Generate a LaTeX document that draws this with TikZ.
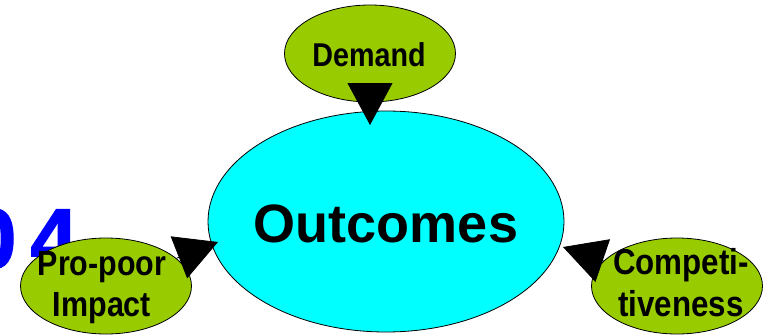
\documentclass[tikz,border=0pt]{standalone}
\usepackage{fontspec}
\setmainfont{Liberation Sans}
\newfontfamily\narrowsans[FakeStretch=0.87]{Liberation Sans}
\newfontfamily\yearsans[FakeBold=1.6]{Liberation Sans Bold}
\usetikzlibrary{shapes,arrows.meta}
\definecolor{outcomecyan}{RGB}{0,255,255}
\definecolor{driverlime}{RGB}{153,204,0}
\definecolor{yearblue}{RGB}{0,0,255}
\tikzset{
  driver/.style={ellipse,draw,line width=0.8pt,fill=driverlime,minimum width=171pt,minimum height=96pt,inner sep=0},
  drivertext/.style={align=center,inner sep=0,font=\narrowsans\bfseries\fontsize{35}{41}\selectfont},
  push/.style={line width=0.8pt,-{Triangle[length=42pt,width=45pt]}}
}
\begin{document}
\begin{tikzpicture}[x=1pt,y=-1pt]
\useasboundingbox (0,0) rectangle (764,335);
% year in the background
\node[anchor=base east,inner sep=0,text=yearblue,font=\yearsans\fontsize{85}{85}\selectfont] (year) at (78,268) {0\kern14pt4};
% centre
\node[ellipse,draw,line width=0.8pt,fill=outcomecyan,minimum width=356pt,minimum height=221pt,inner sep=0] (outcomes) at (386,221.5) {};
\node[inner sep=0,font=\bfseries\fontsize{54}{60}\selectfont] (outcomestext) at (386,224) {Outcomes};
% drivers
\node[driver,minimum height=97pt] (demand) at (370,53.5) {};
\node[drivertext,font=\narrowsans\bfseries\fontsize{33}{40}\selectfont] (demandtext) at (369,55) {Demand};
\node[driver] (propoor) at (106,286) {};
\node[drivertext] (propoortext) at (102,288) {Pro-poor\\Impact};
\node[driver] (compet) at (677,286) {};
\node[drivertext,font=\narrowsans\bfseries\fontsize{36}{42}\selectfont] (compettext) at (681,283) {Competi-\\tiveness};
% arrow tips
\coordinate (demandtip) at (370,125);
\coordinate (propoortip) at (218,242);
\coordinate (compettip) at (563,247);
\draw[push] (demand) -- (demandtip);
\draw[push] (propoor) -- (propoortip);
\draw[push] (compet) -- (compettip);
\end{tikzpicture}
\end{document}
